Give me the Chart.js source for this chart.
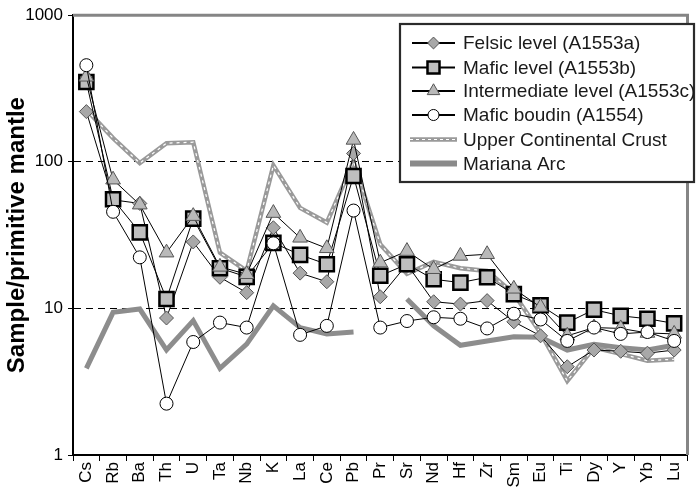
<!DOCTYPE html>
<html><head><meta charset="utf-8">
<script src="https://cdn.jsdelivr.net/npm/chart.js@4.4.1/dist/chart.umd.min.js"></script>
<style>html,body{margin:0;padding:0;background:#fff;}#wrap{width:700px;height:488px;}</style>
</head><body><div id="wrap"><canvas id="c" width="700" height="488"></canvas></div>
<script>
const categories = ['Cs','Rb','Ba','Th','U','Ta','Nb','K','La','Ce','Pb','Pr','Sr','Nd','Hf','Zr','Sm','Eu','Ti','Dy','Y','Yb','Lu'];
const felsic       = [220,55,52,8.6,28.4,16.3,12.8,35.5,17.4,15.2,114,12.0,20,11.1,10.7,11.3,8.1,6.5,4.0,5.2,5.1,4.95,5.2];
const maficLevel   = [350,55.5,33,11.6,41,18.8,16.4,28,23.2,20,80,16.7,20,15.8,15,16.3,12.5,10.5,8.0,9.8,8.9,8.5,7.9];
const intermediate = [380,75.5,51,24,42.6,19.2,17.1,44.7,30.3,25.7,141,20.5,24.6,18.5,22.8,23.4,13.6,10.2,6.5,7.4,7.3,6.8,6.7];
const maficBoudin  = [456,45.6,22.3,2.24,5.9,8.0,7.4,27.8,6.6,7.6,46.5,7.4,8.2,8.7,8.5,7.3,9.2,8.4,6.0,7.4,6.7,6.9,6.0];
const upperCrust   = [227,145,98,134,136,24,18,94.6,48.5,38.5,100,27.4,17.2,20.8,18.8,18,12.6,6.8,3.2,5.4,4.9,4.4,4.5];
const marianaArc   = [3.9,9.4,9.9,5.2,8.25,3.9,5.7,10.4,7.4,6.7,6.9,null,11.6,7.6,5.6,6.0,6.4,6.35,5.2,5.7,5.4,5.2,5.6];
const yTicks = [1,10,100,1000];
const yTitle = 'Sample/primitive mantle';

const FONT = "'Liberation Sans', Arial, sans-serif";

function drawMarker(ctx, style, x, y, r, fill, stroke, lw) {
  ctx.beginPath();
  if (style === 'rectRot') { ctx.moveTo(x-r,y); ctx.lineTo(x,y-r); ctx.lineTo(x+r,y); ctx.lineTo(x,y+r); ctx.closePath(); }
  else if (style === 'rect') { const s = r*Math.SQRT1_2; ctx.rect(x-s,y-s,2*s,2*s); }
  else if (style === 'triangle') {
    ctx.moveTo(x, y-r);
    ctx.lineTo(x + r*Math.sin(2*Math.PI/3), y - r*Math.cos(2*Math.PI/3));
    ctx.lineTo(x + r*Math.sin(4*Math.PI/3), y - r*Math.cos(4*Math.PI/3));
    ctx.closePath();
  } else { ctx.arc(x,y,r,0,Math.PI*2); }
  ctx.fillStyle = fill; ctx.fill();
  ctx.lineWidth = lw; ctx.strokeStyle = stroke; ctx.stroke();
}

const framePlugin = {
  id: 'frame',
  afterDatasetsDraw(chart) {
    const {ctx, chartArea: a} = chart;
    ctx.save();
    ctx.strokeStyle = '#858585';
    ctx.lineWidth = 3;
    ctx.beginPath();
    ctx.moveTo(a.left, a.top);
    ctx.lineTo(a.right, a.top);
    ctx.lineTo(a.right, a.bottom);
    ctx.stroke();
    ctx.restore();
  }
};

const legendPlugin = {
  id: 'boxLegend',
  afterDraw(chart) {
    const ctx = chart.ctx;
    const x0 = 400, y0 = 24, x1 = 694, y1 = 182;
    ctx.save();
    ctx.fillStyle = '#fff';
    ctx.fillRect(x0, y0, x1-x0, y1-y0);
    ctx.lineWidth = 2.2; ctx.strokeStyle = '#2b2b2b';
    ctx.strokeRect(x0, y0, x1-x0, y1-y0);
    const rows = [43, 67.5, 91, 115, 139.5, 163.5];
    const items = [0,1,2,3,4,6];
    items.forEach((di, k) => {
      const ds = chart.data.datasets[di];
      const y = rows[k];
      const lx0 = 412, lx1 = 455, mx = 433.5;
      if (di <= 3) {
        ctx.strokeStyle = '#000'; ctx.lineWidth = 2;
        ctx.beginPath(); ctx.moveTo(lx0, y); ctx.lineTo(lx1, y); ctx.stroke();
        drawMarker(ctx, ds.pointStyle, mx, y, ds.pointRadius*0.85, ds.pointBackgroundColor, ds.pointBorderColor, ds.pointBorderWidth);
      } else if (di === 4) {
        ctx.strokeStyle = '#9a9a9a'; ctx.lineWidth = 4.5;
        ctx.beginPath(); ctx.moveTo(lx0-2, y); ctx.lineTo(lx1+2, y); ctx.stroke();
        ctx.strokeStyle = '#fff'; ctx.lineWidth = 1.2; ctx.setLineDash([3,3]);
        ctx.beginPath(); ctx.moveTo(lx0-2, y); ctx.lineTo(lx1+2, y); ctx.stroke();
        ctx.setLineDash([]);
      } else {
        ctx.strokeStyle = '#8a8a8a'; ctx.lineWidth = 6;
        ctx.beginPath(); ctx.moveTo(lx0-2, y); ctx.lineTo(lx1+2, y); ctx.stroke();
      }
      ctx.fillStyle = '#1a1a1a';
      ctx.font = '19px ' + FONT;
      ctx.textBaseline = 'middle';
      ctx.textAlign = 'left';
      ctx.fillText(ds.label, 463, y + 1);
    });
    ctx.restore();
  }
};

const sampleLine = {borderColor:'#000', borderWidth:1, fill:false, tension:0};

new Chart(document.getElementById('c'), {
  type: 'line',
  data: {
    labels: categories,
    datasets: [
      {label:'Felsic level (A1553a)', data:felsic, ...sampleLine, pointStyle:'rectRot', pointRadius:7, pointBackgroundColor:'#a8a8a8', pointBorderColor:'#555', pointBorderWidth:1, order:3},
      {label:'Mafic level (A1553b)', data:maficLevel, ...sampleLine, pointStyle:'rect', pointRadius:10, pointBackgroundColor:'#bebebe', pointBorderColor:'#000', pointBorderWidth:2.5, order:2},
      {label:'Intermediate level (A1553c)', data:intermediate, ...sampleLine, pointStyle:'triangle', pointRadius:8.5, pointBackgroundColor:'#b9b9b9', pointBorderColor:'#555', pointBorderWidth:1, order:1},
      {label:'Mafic boudin (A1554)', data:maficBoudin, ...sampleLine, pointStyle:'circle', pointRadius:6.5, pointBackgroundColor:'#fff', pointBorderColor:'#000', pointBorderWidth:1, order:0},
      {label:'Upper Continental Crust', data:upperCrust, borderColor:'#9a9a9a', borderWidth:4.5, pointRadius:0, tension:0, order:11},
      {label:'Upper Continental Crust (dash)', data:upperCrust, borderColor:'#ffffff', borderWidth:1.2, borderDash:[3,4], pointRadius:0, tension:0, order:10},
      {label:'Mariana Arc', data:marianaArc, borderColor:'#8d8d8d', borderWidth:5, pointRadius:0, tension:0, spanGaps:false, order:12}
    ]
  },
  options: {
    responsive: false,
    animation: false,
    devicePixelRatio: 1,
    layout: {padding: {top: 13, right: 4, left: 0, bottom: 0}},
    plugins: {legend: {display:false}, tooltip: {enabled:false}},
    scales: {
      x: {
        type: 'category',
        offset: true,
        grid: {offset:true, drawOnChartArea:false, drawTicks:true, tickLength:6, tickColor:'#000', tickWidth:1},
        border: {color:'#000', width:2},
        ticks: {maxRotation:90, minRotation:90, autoSkip:false, padding:1, color:'#000', font:{family:FONT, size:17}},
        afterFit(s) { s.height = 33; }
      },
      y: {
        type: 'logarithmic',
        min: 1, max: 1000,
        afterBuildTicks(s) { s.ticks = yTicks.map(v => ({value: v})); },
        grid: {
          color: c => (c.tick && (c.tick.value === 10 || c.tick.value === 100)) ? '#000' : 'rgba(0,0,0,0)',
          lineWidth: 1,
          tickLength: 5, tickColor: '#000', tickWidth: 1
        },
        border: {color:'#000', width:2, dash:[7,5]},
        ticks: {color:'#000', padding:5, font:{family:FONT, size:17}, callback: v => String(v)},
        title: {display:true, text:yTitle, color:'#000', font:{family:FONT, size:24, weight:'bold'}, padding:{top:3, bottom:0}},
        afterFit(s) { s.width = 73; }
      }
    }
  },
  plugins: [framePlugin, legendPlugin]
});
</script>
</body></html>
